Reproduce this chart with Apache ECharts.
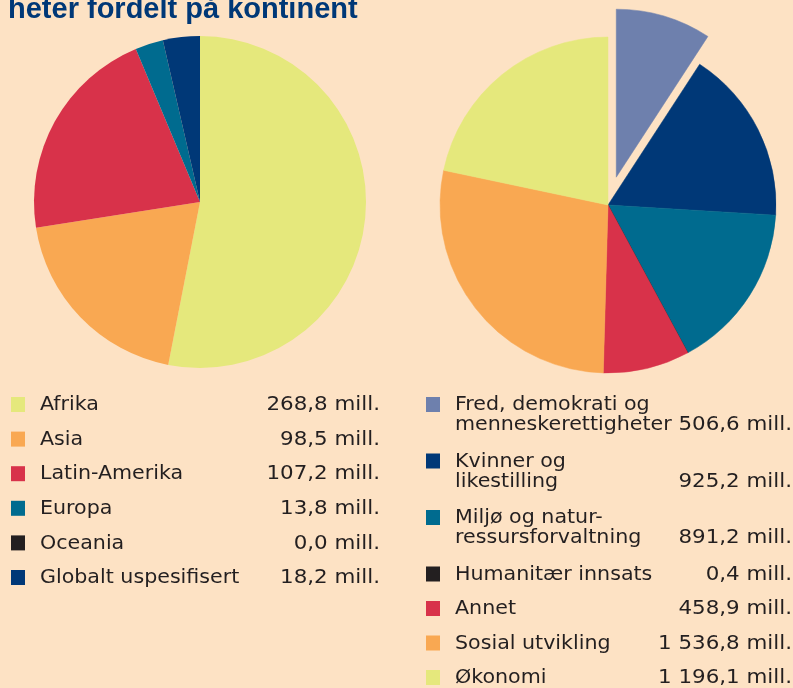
<!DOCTYPE html>
<html>
<head>
<meta charset="utf-8">
<script src="https://cdn.jsdelivr.net/npm/echarts@6/dist/echarts.min.js"></script>
<style>
  html, body { margin: 0; padding: 0; background: #fde2c4; }
  #chart { width: 793px; height: 688px; }
</style>
</head>
<body>
<div id="chart"></div>
<script>
// bistand fordelt på kontinent / tema (mill. kr)
const regions = ['Afrika', 'Asia', 'Latin-Amerika', 'Europa', 'Oceania', 'Globalt uspesifisert']
const regionValues = [268.8, 98.5, 107.2, 13.8, 0.0, 18.2]
const regionColors = ['#e5e87c', '#f9a852', '#d8324a', '#006b8f', '#231f20', '#003877']

const themes = ['Fred, demokrati og\nmenneskerettigheter', 'Kvinner og\nlikestilling', 'Miljø og natur-\nressursforvaltning', 'Humanitær innsats', 'Annet', 'Sosial utvikling', 'Økonomi']
const themeValues = [506.6, 925.2, 891.2, 0.4, 458.9, 1536.8, 1196.1]
const themeColors = ['#6e80ad', '#003877', '#006b8f', '#231f20', '#d8324a', '#f9a852', '#e5e87c']

const textColor = '#231f20'
const legendFont = '20px "DejaVu Sans"'

function fmt(v) {
  const parts = v.toFixed(1).split('.')
  const int = parts[0].replace(/\B(?=(\d{3})+(?!\d))/g, ' ')
  return int + ',' + parts[1] + ' mill.'
}

// scaleX widens DejaVu a little towards the printed typeface
function text(str, x, y, align, sx) {
  return {
    type: 'text',
    silent: true,
    x: x,
    y: y,
    scaleX: sx,
    style: {
      text: str, x: 0, y: 0, font: legendFont, fill: textColor,
      align: align, verticalAlign: 'middle',
      textAlign: align, textVerticalAlign: 'middle'
    }
  }
}

// legend rows drawn as graphic elements so the two-line labels line up like the print
function buildLegend(names, values, colors, opt) {
  const els = []
  let top = opt.top
  names.forEach((name, i) => {
    const lines = name.split('\n')
    els.push({
      type: 'rect',
      silent: true,
      shape: { x: opt.boxX, y: top, width: 14, height: 15 },
      style: { fill: colors[i] }
    })
    lines.forEach((ln, j) => {
      els.push(text(ln, opt.textX, top + 8 + j * 20, 'left', 1.03))
    })
    els.push(text(fmt(values[i]), opt.valueX, top + 8 + (lines.length - 1) * 20, 'right', 1.07))
    top += opt.step + (lines.length - 1) * opt.extra
  })
  return els
}

function pieData(names, values, colors, border) {
  return names.map((n, i) => ({
    name: n,
    value: values[i],
    itemStyle: { color: colors[i], borderColor: colors[i], borderWidth: border }
  }))
}

const chart = echarts.init(document.getElementById('chart'))

// thin outline so the 0,4 mill. slice shows as a hairline like in print
const right = pieData(themes, themeValues, themeColors, 0.5)
right[0].selected = true

chart.setOption({
  backgroundColor: '#fde2c4',
  animation: false,
  tooltip: { show: false },
  graphic: [
    {
      type: 'text',
      silent: true,
      style: {
        text: 'heter fordelt på kontinent',
        x: 8, y: 24,
        font: 'bold 29px "Liberation Sans"',
        fill: '#003877',
        align: 'left', verticalAlign: 'bottom',
        textAlign: 'left', textVerticalAlign: 'bottom'
      }
    }
  ].concat(
    buildLegend(regions, regionValues, regionColors, { top: 397, boxX: 11, textX: 40, valueX: 380, step: 34.6, extra: 0 }),
    buildLegend(themes, themeValues, themeColors, { top: 397, boxX: 426, textX: 455, valueX: 792, step: 34.5, extra: 22 })
  ),
  series: [
    {
      type: 'pie',
      center: [200, 202],
      radius: [0, 166],
      startAngle: 90,
      clockwise: true,
      label: { show: false },
      labelLine: { show: false },
      emphasis: { disabled: true },
      data: pieData(regions, regionValues, regionColors, 0)
    },
    {
      type: 'pie',
      center: [608, 205],
      radius: [0, 168],
      startAngle: 90,
      clockwise: true,
      selectedMode: 'single',
      selectedOffset: 29,
      label: { show: false },
      labelLine: { show: false },
      emphasis: { disabled: true },
      data: right
    }
  ]
})
</script>
</body>
</html>
